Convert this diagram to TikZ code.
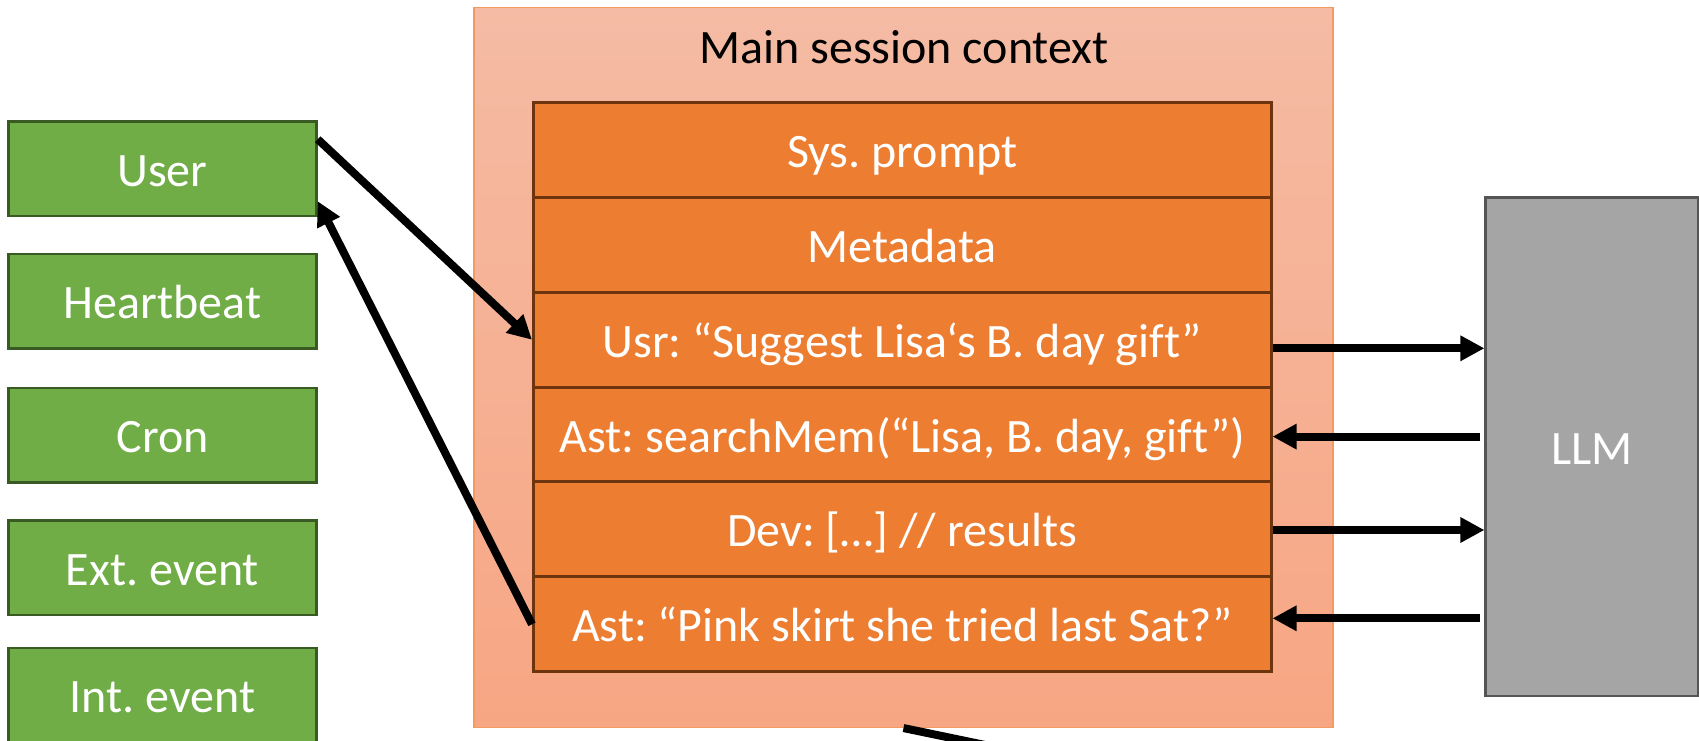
\documentclass[tikz,border=0pt]{standalone}
\usepackage{fontspec}
\setmainfont[Ligatures=NoCommon]{Carlito}
\frenchspacing
\usetikzlibrary{arrows.meta,calc}

\definecolor{evgreen}{HTML}{70AD47}
\definecolor{evgreenline}{HTML}{3A5A24}
\definecolor{ctxorange}{HTML}{ED7D31}
\definecolor{ctxline}{HTML}{6E340E}
\definecolor{ctxtop}{HTML}{F5BBA4}
\definecolor{ctxbottom}{HTML}{F7A683}
\definecolor{ctxedge}{HTML}{F39A62}
\definecolor{llmgray}{HTML}{A5A5A5}
\definecolor{llmline}{HTML}{555555}

\tikzset{
  lbl/.style={font=\fontsize{48}{58}\selectfont, inner sep=0pt,
              text height=35pt, text depth=0pt},
  source/.style={lbl, draw=evgreenline, line width=2.5pt, fill=evgreen,
                 text=white, minimum width=308pt, minimum height=94.5pt},
  entry/.style={lbl, draw=ctxline, line width=3pt, fill=ctxorange,
                text=white, minimum width=737.5pt, minimum height=94.83pt},
  model/.style={lbl, draw=llmline, line width=2.5pt, fill=llmgray,
                text=white, minimum width=212.6pt, minimum height=498.7pt},
  context/.style={draw=ctxedge, line width=1.5pt, top color=ctxtop,
                  bottom color=ctxbottom, inner sep=0pt,
                  minimum width=859pt, minimum height=720pt},
  flow/.style={line width=8pt, -{Triangle[length=24pt,width=24pt]}},
}

\begin{document}
\begin{tikzpicture}[x=1pt, y=-1pt]
  \clip (0,0) rectangle (1699,741);
  \fill[white] (0,0) rectangle (1699,741);

  % event sources
  \node[source] (user)  at (162.5,168.75) {User};
  \node[source] (heart) at (162.5,301)    {Heartbeat};
  \node[source] (cron)  at (162.5,435.3)  {Cron};
  \node[source] (ext)   at (162.5,567.75) {Ext. event};
  \node[source] (int)   at (162.5,695)    {Int. event};

  % session context with its stacked entries
  \node[context] (outer) at (903.5,367.3) {};
  \node[anchor=base, font=\fontsize{48}{58}\selectfont, inner sep=0pt]
       (title) at (904,63.3) {Main session context};
  \node[entry] (sys)  at (902.25,150.1) {Sys. prompt};
  \node[entry] (meta) at (902.25,244.95) {Metadata};
  \node[entry] (usr)  at (902.25,339.8) {Usr: “Suggest Lisa‘s B. day gift”};
  \node[entry] (ast1) at (902.25,434.6) {Ast: searchMem(“Lisa, B. day, gift”)};
  \node[entry] (dev)  at (902.25,529.4) {Dev: […] // results};
  \node[entry] (ast2) at (902.25,624.3) {Ast: “Pink skirt she tried last Sat?”};

  % language model
  \node[model] (llm) at (1592,446.65) {LLM};

  % user exchange
  \draw[flow] ($(user.north east)+(0,19)$) -- (usr.west);
  \draw[flow] (ast2.west) -- ($(user.south east)+(0,-16)$);

  % calls to and from the model
  \coordinate (q1) at ($(usr.east)+(0,8.5)$);
  \coordinate (q2) at ($(ast1.east)+(0,2)$);
  \coordinate (q3) at ($(dev.east)+(0,0.6)$);
  \coordinate (q4) at ($(ast2.east)+(0,-6)$);
  \draw[flow] (q1) -- (q1 -| llm.west);
  \draw[flow] ([xshift=-4pt]q2 -| llm.west) -- (q2);
  \draw[flow] (q3) -- (q3 -| llm.west);
  \draw[flow] ([xshift=-4pt]q4 -| llm.west) -- (q4);

  % outgoing link below the context
  \coordinate (away) at ($(outer.south)+(154,32)$);
  \draw[line width=8pt] (outer.south) -- (away);
\end{tikzpicture}
\end{document}
